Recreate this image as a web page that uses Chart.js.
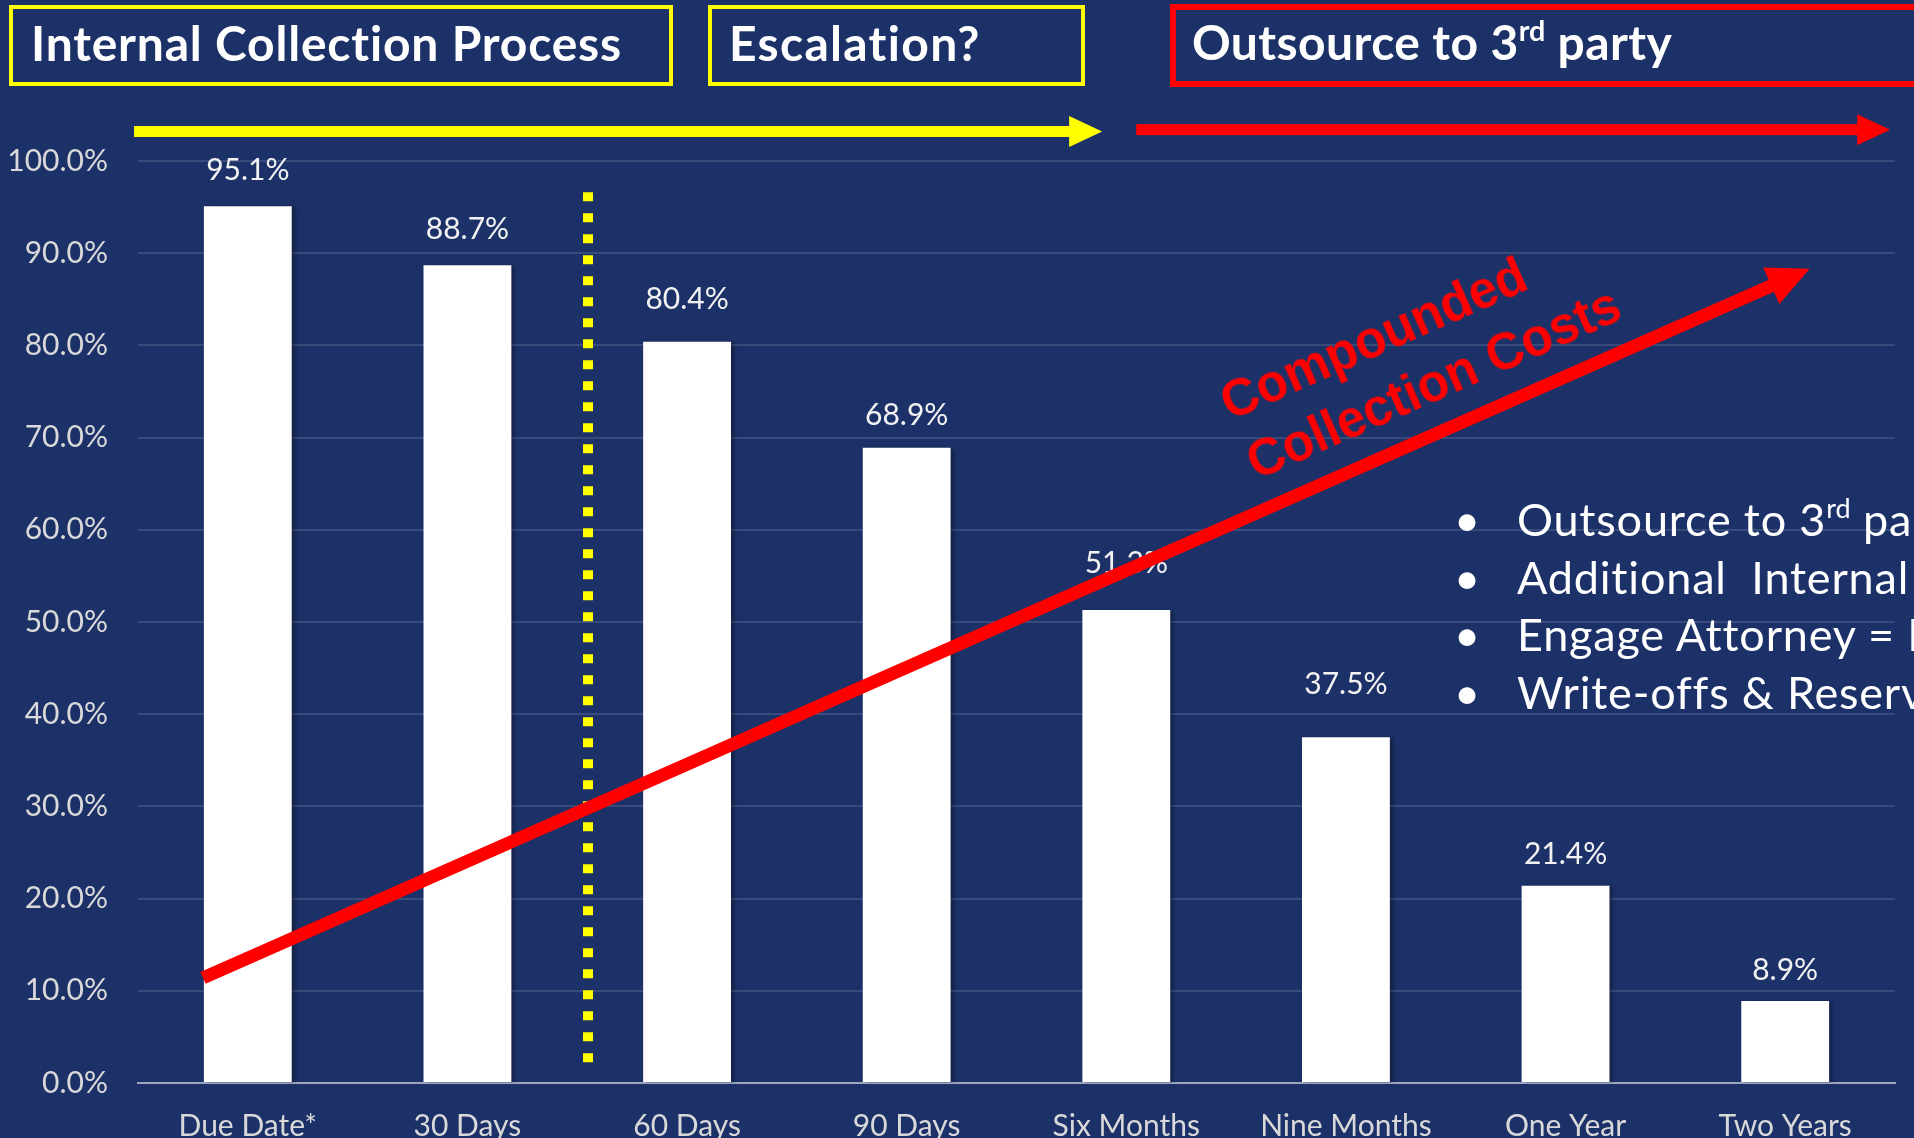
<!DOCTYPE html>
<html>
<head>
<meta charset="utf-8">
<script src="https://cdn.jsdelivr.net/npm/chart.js@4/dist/chart.umd.min.js"></script>
<style>
  html, body { margin: 0; padding: 0; background: #1c3168; overflow: hidden; }
  #page { position: relative; width: 1914px; height: 1138px; overflow: hidden; font-family: Lato, sans-serif; }
  #chart { position: absolute; left: 0; top: 0; display: block; }
  .phase { position: absolute; box-sizing: border-box; }
  .phase span { position: absolute; top: 6px; font-weight: 700; font-size: 48px; letter-spacing: 0.8px; line-height: 55px; color: #fff; white-space: nowrap; }
  sup { font-size: 0.6em; line-height: 0; vertical-align: 0.65em; letter-spacing: 0; }
  #costs { position: absolute; left: 1210px; top: 375px; transform-origin: 0 0; transform: rotate(-23.8deg);
           font-family: "Liberation Sans", Arial, sans-serif; font-weight: 700; font-size: 51px; line-height: 65px; color: #ff0000; white-space: nowrap; }
  #bullets { position: absolute; left: 1454px; top: 491px; font-size: 45px; letter-spacing: 0.8px; line-height: 57.5px; color: #fff; white-space: nowrap; }
  #bullets div { position: relative; padding-left: 63px; }
  #bullets div::before { content: "\2022"; position: absolute; left: 0; }
</style>
</head>
<body>
<div id="page">
  <canvas id="chart" width="1914" height="1160"></canvas>

  <div class="phase" style="left:9px; top:5px; width:664px; height:81px; border:4px solid #ffff00;"><span style="left:18px;">Internal Collection Process</span></div>
  <div class="phase" style="left:708px; top:5px; width:377px; height:81px; border:4px solid #ffff00;"><span style="left:17px; letter-spacing:1.3px;">Escalation?</span></div>
  <div class="phase" style="left:1170px; top:4px; width:800px; height:83px; border:6px solid #ff0000;"><span style="left:16px; top:4px; letter-spacing:0.4px;">Outsource to 3<sup>rd</sup> party</span></div>

  <div id="costs">Compounded<br>Collection Costs</div>

  <div id="bullets">
    <div>Outsource to 3<sup>rd</sup> party</div>
    <div>Additional&nbsp; Internal Costs</div>
    <div>Engage Attorney = New Costs</div>
    <div>Write-offs &amp; Reserves</div>
  </div>
</div>

<script>
// collection rate by age of receivable
const categories = ['Due Date*', '30 Days', '60 Days', '90 Days', 'Six Months', 'Nine Months', 'One Year', 'Two Years'];
const collectedPct = [95.1, 88.7, 80.4, 68.9, 51.3, 37.5, 21.4, 8.9];
const yMax = 100;
const yStep = 10;

// annotations, in axis units (x2 runs -0.5..7.5 over the categories)
const costArrow = [{ x: -0.204, y: 11.4 }, { x: 6.945, y: 86.55 }];
const escalationLine = [{ x: 1.549, y: 96.6 }, { x: 1.549, y: 1.6 }];
const phaseArrows = [
    { from: -0.518, to: 3.89, y: 103.2, color: '#ffff00' },
    { from: 4.045, to: 7.478, y: 103.4, color: '#ff0000' }
];

// label baseline distance above each bar, px (labels were nudged by hand in the original)
const labelGap = [26, 26, 33, 23, 37, 43, 22, 21];

Chart.defaults.font.family = 'Lato, sans-serif';
Chart.defaults.font.size = 30;

function fillHead(ctx, tipX, tipY, angle, len, width, color) {
    const ux = Math.cos(angle), uy = Math.sin(angle);
    const bx = tipX - ux * len, by = tipY - uy * len;
    ctx.fillStyle = color;
    ctx.beginPath();
    ctx.moveTo(tipX, tipY);
    ctx.lineTo(bx - uy * width / 2, by + ux * width / 2);
    ctx.lineTo(bx + uy * width / 2, by - ux * width / 2);
    ctx.closePath();
    ctx.fill();
}

const annotate = {
    id: 'annotate',
    beforeDatasetDraw(chart, args) {
        if (args.meta.type !== 'bar') return;
        const ctx = chart.ctx;
        ctx.save();
        ctx.shadowColor = 'rgba(0,0,0,0.35)';
        ctx.shadowBlur = 4;
        ctx.shadowOffsetX = 3;
        ctx.shadowOffsetY = 1;
    },
    afterDatasetDraw(chart, args) {
        if (args.meta.type !== 'bar') return;
        const ctx = chart.ctx;
        ctx.restore();
        // value labels above bars (under the red arrow)
        ctx.save();
        ctx.fillStyle = '#f2f2f2';
        ctx.font = '30px Lato, sans-serif';
        ctx.textAlign = 'center';
        ctx.textBaseline = 'alphabetic';
        args.meta.data.forEach((bar, i) => {
            ctx.fillText(collectedPct[i].toFixed(1) + '%', bar.x, bar.y - labelGap[i]);
        });
        ctx.restore();
    },
    afterDatasetsDraw(chart) {
        const ctx = chart.ctx;
        const xs = chart.scales.x2, ys = chart.scales.y;
        ctx.save();

        // head of the compounded costs arrow
        const pts = chart.getDatasetMeta(2).data;
        const a = pts[0], b = pts[pts.length - 1];
        const ang = Math.atan2(b.y - a.y, b.x - a.x);
        fillHead(ctx, b.x + Math.cos(ang) * 40, b.y + Math.sin(ang) * 40, ang, 42, 40, '#ff0000');

        // phase arrows above the plot
        phaseArrows.forEach(p => {
            const x1 = xs.getPixelForValue(p.from);
            const x2 = xs.getPixelForValue(p.to);
            const y = ys.getPixelForValue(p.y);
            ctx.fillStyle = p.color;
            ctx.fillRect(x1, y - 5.5, x2 - x1 - 32, 11);
            fillHead(ctx, x2, y, 0, 33, 31, p.color);
        });
        ctx.restore();
    }
};

new Chart(document.getElementById('chart'), {
    type: 'bar',
    data: {
        labels: categories,
        datasets: [
            {
                label: 'Collected',
                data: collectedPct,
                backgroundColor: '#ffffff',
                barPercentage: 0.4,
                categoryPercentage: 1,
                grouped: false,
                order: 2
            },
            {
                type: 'line',
                label: 'Escalation',
                data: escalationLine,
                xAxisID: 'x2',
                borderColor: '#ffff00',
                borderWidth: 10,
                borderDash: [9, 12],
                borderCapStyle: 'butt',
                pointRadius: 0,
                order: 1
            },
            {
                type: 'line',
                label: 'Compounded Collection Costs',
                data: costArrow,
                xAxisID: 'x2',
                borderColor: '#ff0000',
                borderWidth: 13,
                borderCapStyle: 'butt',
                pointRadius: 0,
                clip: false,
                order: 0
            }
        ]
    },
    options: {
        responsive: false,
        animation: false,
        layout: { padding: { top: 161, right: 19, left: 0, bottom: 0 } },
        plugins: { legend: { display: false }, tooltip: { enabled: false } },
        scales: {
            x: {
                type: 'category',
                offset: true,
                grid: { display: false, drawTicks: false },
                border: { color: '#9ea6bf', width: 2 },
                ticks: { color: '#d9d9d9', padding: 25, maxRotation: 0, autoSkip: false },
                afterFit: s => { s.height = 77; }
            },
            x2: {
                type: 'linear',
                display: false,
                offset: false,
                grid: { offset: false },
                min: -0.5,
                max: 7.5
            },
            y: {
                min: 0,
                max: yMax,
                ticks: {
                    stepSize: yStep,
                    color: '#d9d9d9',
                    padding: 30,
                    callback: v => v.toFixed(1) + '%'
                },
                grid: { color: 'rgba(255,255,255,0.13)', lineWidth: 2, drawTicks: false },
                border: { display: false },
                afterFit: s => { s.width = 138; }
            }
        }
    },
    plugins: [annotate]
});
</script>
</body>
</html>
